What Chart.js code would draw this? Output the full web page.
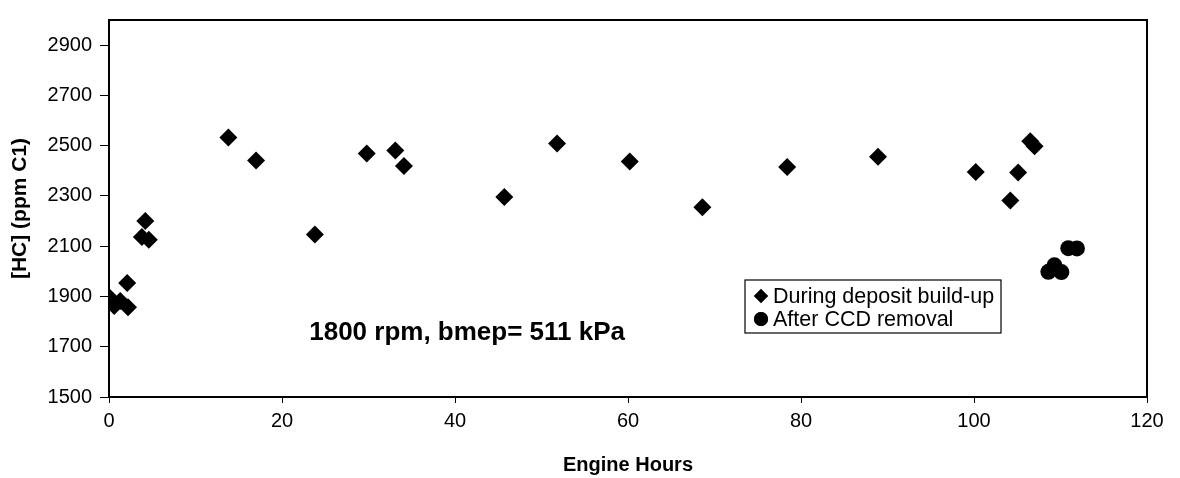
<!DOCTYPE html>
<html>
<head>
<meta charset="utf-8">
<script src="https://cdn.jsdelivr.net/npm/chart.js@4"></script>
<style>
    html, body { margin: 0; padding: 0; background: #fff; }
    #wrap { position: relative; width: 1180px; height: 478px; }
</style>
</head>
<body>
<div id="wrap"><canvas id="hcChart"></canvas></div>
<script>
// --- DATA ---
const buildUpHours = [0, 0.6, 1.3, 2.1, 2.2, 3.8, 4.2, 4.6, 13.8, 17.0, 23.8, 29.8, 33.1, 34.1, 45.7, 51.8, 60.2, 68.6, 78.4, 88.9, 100.2, 104.2, 105.1, 106.5, 107.0];
const buildUpHC = [1898, 1862, 1882, 1954, 1857, 2137, 2200, 2126, 2532, 2441, 2147, 2469, 2481, 2419, 2296, 2509, 2437, 2255, 2415, 2456, 2395, 2282, 2393, 2518, 2498];

const removalHours = [108.6, 109.3, 110.1, 110.9, 111.9];
const removalHC = [1998, 2024, 1997, 2092, 2091];

const xTicks = [0, 20, 40, 60, 80, 100, 120];
const yTicks = [1500, 1700, 1900, 2100, 2300, 2500, 2700, 2900];

const seriesNames = ['During deposit build-up', 'After CCD removal'];
const noteText = '1800 rpm, bmep= 511 kPa';
const notePos = { x: 41.4, y: 1756 };

const FONT = "'Liberation Sans', Arial, sans-serif";

function toPoints(xs, ys) {
    return xs.map((x, i) => ({ x: x, y: ys[i] }));
}

// frame, legend box and the text note
const figureExtras = {
    id: 'figureExtras',
    afterDraw(chart) {
        const { ctx, chartArea: a, scales } = chart;
        ctx.save();

        // plot frame
        ctx.strokeStyle = '#000';
        ctx.lineWidth = 2;
        ctx.strokeRect(a.left, a.top, a.right - a.left, a.bottom - a.top);

        // note
        ctx.fillStyle = '#000';
        ctx.font = 'bold 26px ' + FONT;
        ctx.textAlign = 'center';
        ctx.textBaseline = 'middle';
        ctx.fillText(noteText, scales.x.getPixelForValue(notePos.x), scales.y.getPixelForValue(notePos.y));

        // legend
        const lx = a.left + 636, ly = 280, lw = 256, lh = 53;
        ctx.lineWidth = 1.2;
        ctx.strokeRect(lx, ly, lw, lh);
        const styles = chart.data.datasets.map(d => d.pointStyle);
        const radii = [7, 7];
        ctx.font = '21.5px ' + FONT;
        ctx.textAlign = 'left';
        seriesNames.forEach((name, i) => {
            const cy = ly + 16 + i * 23;
            ctx.fillStyle = '#000';
            Chart.helpers.drawPoint(ctx, { pointStyle: styles[i], radius: radii[i], borderWidth: 0, rotation: 0 }, lx + 16, cy);
            ctx.fill();
            ctx.fillText(name, lx + 28, cy + 1);
        });
        ctx.restore();
    }
};

new Chart(document.getElementById('hcChart'), {
    type: 'scatter',
    data: {
        datasets: [
            {
                label: seriesNames[0],
                data: toPoints(buildUpHours, buildUpHC),
                pointStyle: 'rectRot',
                pointRadius: 9,
                backgroundColor: '#000',
                borderColor: '#000',
                borderWidth: 0
            },
            {
                label: seriesNames[1],
                data: toPoints(removalHours, removalHC),
                pointStyle: 'circle',
                pointRadius: 8,
                backgroundColor: '#000',
                borderColor: '#000',
                borderWidth: 0
            }
        ]
    },
    options: {
        responsive: true,
        maintainAspectRatio: false,
        animation: false,
        layout: { padding: { top: 17, right: 33, left: 0, bottom: 0 } },
        plugins: {
            legend: { display: false },
            tooltip: { enabled: false }
        },
        scales: {
            x: {
                type: 'linear',
                min: 0,
                max: 120,
                afterFit: (scale) => { scale.height = 81; },
                afterBuildTicks: (scale) => { scale.ticks = xTicks.map(v => ({ value: v })); },
                border: { display: true, color: '#000', width: 2 },
                grid: { drawOnChartArea: false, drawTicks: true, tickLength: 6, tickColor: '#000', tickWidth: 1 },
                ticks: {
                    color: '#000', padding: 6, maxRotation: 0,
                    font: { family: FONT, size: 20 },
                    callback: (v) => String(v)
                },
                title: {
                    display: true,
                    text: 'Engine Hours',
                    color: '#000',
                    padding: { top: 0, bottom: 1 },
                    font: { family: FONT, size: 20, weight: 'bold' }
                }
            },
            y: {
                type: 'linear',
                min: 1500,
                max: 3000,
                afterFit: (scale) => { scale.width = 109; },
                afterBuildTicks: (scale) => { scale.ticks = yTicks.map(v => ({ value: v })); },
                border: { display: true, color: '#000', width: 2 },
                grid: { drawOnChartArea: false, drawTicks: true, tickLength: 9, tickColor: '#000', tickWidth: 1 },
                ticks: {
                    color: '#000', padding: 8,
                    font: { family: FONT, size: 20 },
                    callback: (v) => String(v)
                },
                title: {
                    display: true,
                    text: '[HC] (ppm C1)',
                    color: '#000',
                    padding: { top: 8, bottom: 0 },
                    font: { family: FONT, size: 21, weight: 'bold' }
                }
            }
        }
    },
    plugins: [figureExtras]
});
</script>
</body>
</html>
